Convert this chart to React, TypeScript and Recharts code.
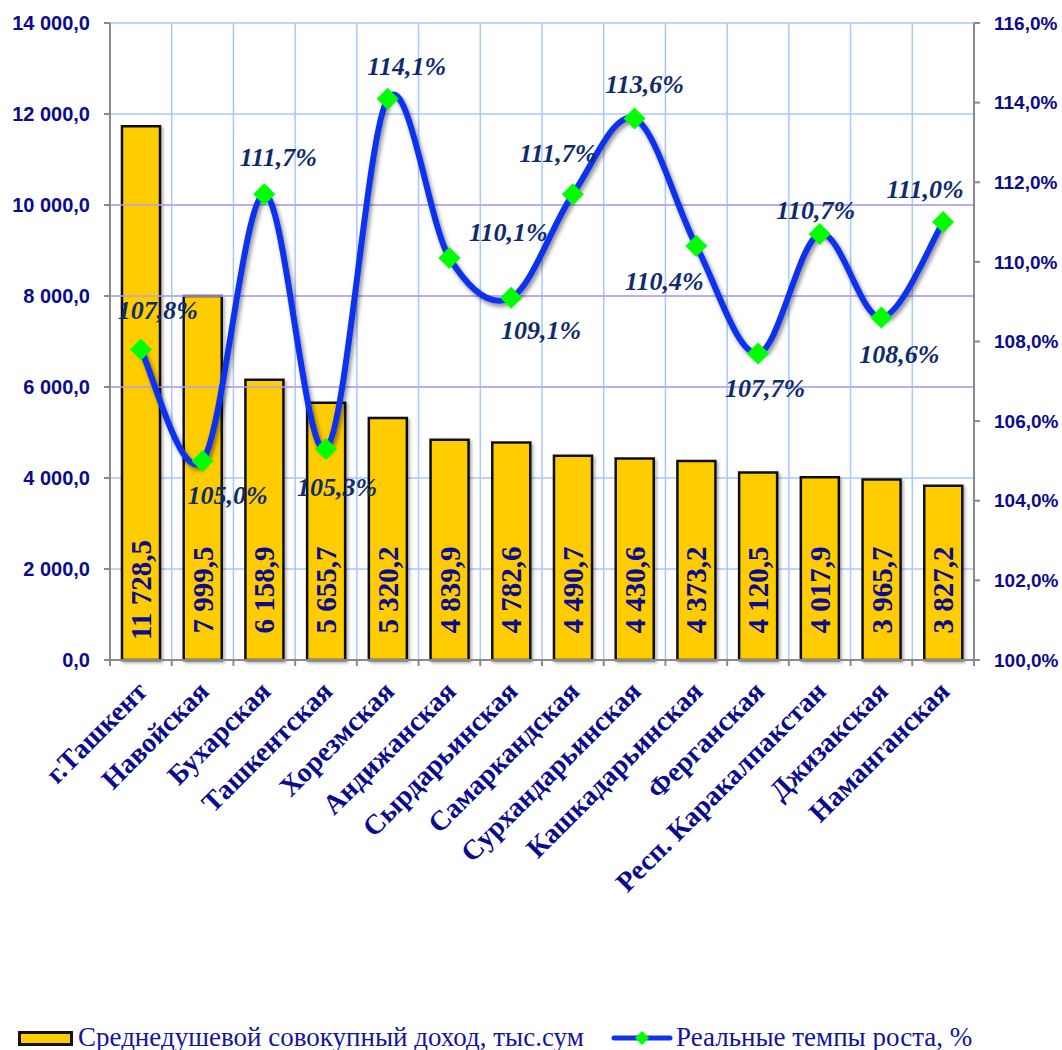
import React from "react"
import { ComposedChart, Bar, Line, XAxis, YAxis, CartesianGrid, ReferenceLine, LabelList, Legend } from "recharts"

const categories = [
  "г.Ташкент",
  "Навойская",
  "Бухарская",
  "Ташкентская",
  "Хорезмская",
  "Андижанская",
  "Сырдарьинская",
  "Самаркандская",
  "Сурхандарьинская",
  "Кашкадарьинская",
  "Ферганская",
  "Респ. Каракалпакстан",
  "Джизакская",
  "Наманганская",
]
const income = [11728.5, 7999.5, 6158.9, 5655.7, 5320.2, 4839.9, 4782.6, 4490.7, 4430.6, 4373.2, 4120.5, 4017.9, 3965.7, 3827.2]
const growth = [107.8, 105.0, 111.7, 105.3, 114.1, 110.1, 109.1, 111.7, 113.6, 110.4, 107.7, 110.7, 108.6, 111.0]
const incomeTicks = [0, 2000, 4000, 6000, 8000, 10000, 12000, 14000]
const growthTicks = [100, 102, 104, 106, 108, 110, 112, 114, 116]
const purpleLines = [6000, 8000, 10000]

// label nudges (dx, dy) for the growth labels, as placed in the original
const labelOffsets: [number, number][] = [
  [17, -39], [25, 35], [14, -37], [11, 39], [19, -32], [59, -25], [30, 33],
  [-15, -41], [10, -34], [-32, 36], [7, 35], [-4, -24], [18, 37], [-18, -33],
]

const data = categories.map((name, i) => ({ name, income: income[i], growth: growth[i] }))

const W = 1062
const H = 1050
const LEFT_W = 110
const RIGHT_W = 88
const N = categories.length
const BAND = (W - LEFT_W - RIGHT_W) / N

const navy = "#0b0b8f"
const serif = "'Liberation Serif', 'Times New Roman', serif"
const sans = "'Liberation Sans', Arial, sans-serif"

const fmt = (v: number, d = 1) => {
  const [i, f] = v.toFixed(d).split(".")
  return i.replace(/\B(?=(\d{3})+(?!\d))/g, " ") + "," + f
}

// Excel-like smoothed line (catmull-rom, uniform)
const excelCurve = (context: any) => {
  let pts: number[][] = []
  return {
    areaStart() {},
    areaEnd() {},
    lineStart() { pts = [] },
    point(x: number, y: number) { pts.push([+x, +y]) },
    lineEnd() {
      if (!pts.length) return
      context.moveTo(pts[0][0], pts[0][1])
      for (let i = 0; i < pts.length - 1; i++) {
        const p0 = pts[i - 1] || pts[i]
        const p1 = pts[i]
        const p2 = pts[i + 1]
        const p3 = pts[i + 2] || p2
        context.bezierCurveTo(
          p1[0] + (p2[0] - p0[0]) / 6, p1[1] + (p2[1] - p0[1]) / 6,
          p2[0] - (p3[0] - p1[0]) / 6, p2[1] - (p3[1] - p1[1]) / 6,
          p2[0], p2[1]
        )
      }
    },
  }
}

const XTick = (props: any) => {
  const { x, y, payload, index } = props
  const bx = x - BAND / 2
  return (
    <g>
      <line x1={bx} x2={bx} y1={y} y2={y + 6} stroke="#8a8a8a" strokeWidth={2} />
      {index === N - 1 && <line x1={x + BAND / 2} x2={x + BAND / 2} y1={y} y2={y + 6} stroke="#8a8a8a" strokeWidth={2} />}
      <text
        x={x + 8}
        y={y + 33}
        transform={`rotate(-45, ${x + 8}, ${y + 33})`}
        textAnchor="end"
        fontFamily={serif}
        fontWeight="bold"
        fontSize={28}
        fill={navy}
      >
        {payload.value}
      </text>
    </g>
  )
}

const GrowthDot = (props: any) => {
  const { cx, cy, index, value } = props
  if (cx == null || cy == null) return <g key={index} />
  const [dx, dy] = labelOffsets[index] || [0, -30]
  const r = 11
  return (
    <g key={index}>
      <polygon points={`${cx},${cy - r} ${cx + r},${cy} ${cx},${cy + r} ${cx - r},${cy}`} fill="#00ff00" />
      <text
        x={cx + dx}
        y={cy + dy}
        textAnchor="middle"
        dominantBaseline="central"
        fontFamily={serif}
        fontStyle="italic"
        fontWeight="bold"
        fontSize={26}
        fill="#0f2b6c"
      >
        {fmt(value) + "%"}
      </text>
    </g>
  )
}

const BarValue = (props: any) => {
  const { x, y, width, height, value } = props
  const cx = x + width / 2
  const cy = y + height - 70
  return (
    <text
      x={cx}
      y={cy}
      transform={`rotate(-90, ${cx}, ${cy})`}
      textAnchor="middle"
      dominantBaseline="central"
      fontFamily={serif}
      fontWeight="bold"
      fontSize={29}
      fill={navy}
    >
      {fmt(value)}
    </text>
  )
}

const LegendBox = () => (
  <div style={{ position: "relative", width: W, height: 40, fontFamily: serif, fontSize: 27, color: "#1414a0" }}>
    <svg width={W} height={40} style={{ position: "absolute", left: 0, top: 0 }}>
      <rect x={19.5} y={22.5} width={52} height={12} fill="#ffcc00" stroke="#111" strokeWidth={3} />
      <line x1={614} x2={670} y1={28} y2={28} stroke="#1133ee" strokeWidth={5} strokeLinecap="round" />
      <polygon points="642,21 649,28 642,35 635,28" fill="#00ff00" />
    </svg>
    <span style={{ position: "absolute", left: 78, top: 12, lineHeight: "30px", whiteSpace: "nowrap" }}>
      Среднедушевой совокупный доход, тыс.сум
    </span>
    <span style={{ position: "absolute", left: 676, top: 12, lineHeight: "30px", whiteSpace: "nowrap" }}>
      Реальные темпы роста, %
    </span>
  </div>
)

export default function App() {
  return (
    <div style={{ position: "absolute", left: 0, top: 0, width: W, height: H, background: "#fff" }}>
      <ComposedChart width={W} height={H} data={data} margin={{ top: 23, right: 0, left: 0, bottom: 0 }} barSize={38}>
        <defs>
          <filter id="lineShadow" x="-10%" y="-10%" width="120%" height="130%">
            <feDropShadow dx={2} dy={3} stdDeviation={2} floodColor="#000" floodOpacity={0.45} />
          </filter>
          <filter id="barShadow" x="-10%" y="-10%" width="130%" height="120%">
            <feDropShadow dx={2} dy={2} stdDeviation={1.5} floodColor="#000" floodOpacity={0.3} />
          </filter>
        </defs>
        <CartesianGrid
          stroke="#a8c8ff"
          strokeWidth={1.5}
          horizontalCoordinatesGenerator={({ offset }: any) =>
            incomeTicks.map((_, i) => offset.top + (i * offset.height) / (incomeTicks.length - 1))
          }
          verticalCoordinatesGenerator={({ offset }: any) =>
            Array.from({ length: N + 1 }, (_, i) => offset.left + i * BAND)
          }
        />
        {purpleLines.map((v) => (
          <ReferenceLine key={v} yAxisId="left" y={v} stroke="#b9a0ee" strokeWidth={1.5} />
        ))}
        <XAxis
          dataKey="name"
          interval={0}
          height={350}
          tickSize={0}
          tickMargin={0}
          tick={<XTick />}
          axisLine={{ stroke: "#8a8a8a", strokeWidth: 2 }}
        />
        <YAxis
          yAxisId="left"
          width={LEFT_W}
          domain={[0, 14000]}
          ticks={incomeTicks}
          tickFormatter={(v: number) => fmt(v)}
          tick={{ fill: navy, fontFamily: sans, fontWeight: "bold", fontSize: 20 }}
          tickMargin={14}
          axisLine={{ stroke: "#8a8a8a", strokeWidth: 2 }}
          tickLine={{ stroke: "#8a8a8a", strokeWidth: 2 }}
        />
        <YAxis
          yAxisId="right"
          orientation="right"
          width={RIGHT_W}
          domain={[100, 116]}
          ticks={growthTicks}
          tickFormatter={(v: number) => fmt(v) + "%"}
          tick={{ fill: navy, fontFamily: sans, fontWeight: "bold", fontSize: 19 }}
          tickMargin={14}
          axisLine={{ stroke: "#8a8a8a", strokeWidth: 2 }}
          tickLine={{ stroke: "#8a8a8a", strokeWidth: 2 }}
        />
        <Legend verticalAlign="bottom" wrapperStyle={{ left: 0, bottom: 0, width: W, height: 40 }} content={<LegendBox />} />
        <Bar
          yAxisId="left"
          dataKey="income"
          name="Среднедушевой совокупный доход, тыс.сум"
          fill="#ffcc00"
          stroke="#111"
          strokeWidth={2.5}
          filter="url(#barShadow)"
          isAnimationActive={false}
        >
          <LabelList dataKey="income" content={<BarValue />} />
        </Bar>
        <Line
          yAxisId="right"
          dataKey="growth"
          name="Реальные темпы роста, %"
          type={excelCurve as any}
          stroke="#1133ee"
          strokeWidth={6}
          filter="url(#lineShadow)"
          dot={<GrowthDot />}
          activeDot={false}
          isAnimationActive={false}
        />
      </ComposedChart>
    </div>
  )
}
